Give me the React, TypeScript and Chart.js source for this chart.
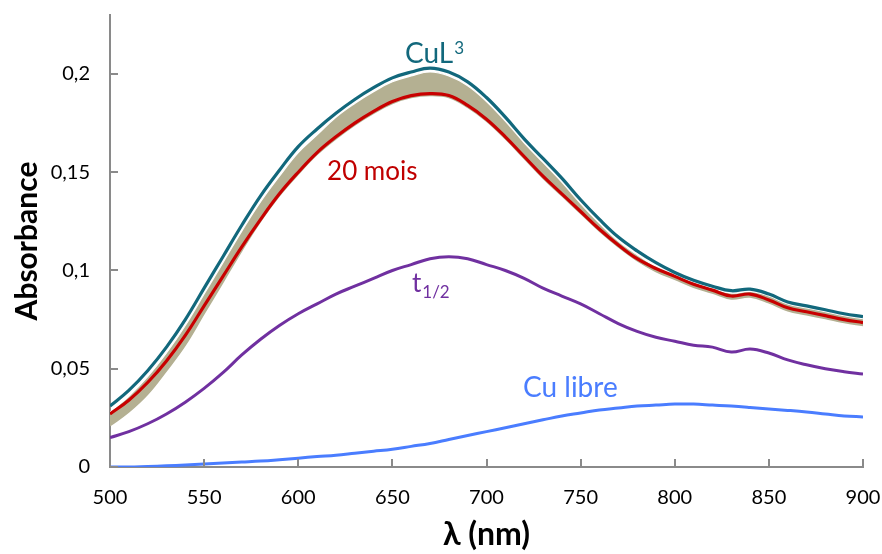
import React, { useEffect, useRef } from "react";
import { Chart, registerables } from "chart.js";

Chart.register(...registerables);

const wavelengths = [500, 510, 520, 530, 540, 550, 560, 570, 580, 590, 600, 610, 620, 630, 640, 650, 660, 670, 680, 690, 700, 710, 720, 730, 740, 750, 760, 770, 780, 790, 800, 810, 820, 830, 840, 850, 860, 870, 880, 890, 900];

const cuL3 = [0.031, 0.039, 0.049, 0.061, 0.075, 0.091, 0.107, 0.123, 0.138, 0.151, 0.163, 0.172, 0.180, 0.187, 0.193, 0.198, 0.201, 0.203, 0.201, 0.196, 0.188, 0.178, 0.167, 0.157, 0.147, 0.136, 0.126, 0.117, 0.110, 0.104, 0.099, 0.095, 0.092, 0.0897, 0.0905, 0.088, 0.084, 0.082, 0.080, 0.078, 0.0765];

const mois20 = [0.027, 0.034, 0.043, 0.054, 0.067, 0.082, 0.097, 0.112, 0.126, 0.139, 0.150, 0.160, 0.168, 0.175, 0.181, 0.186, 0.189, 0.190, 0.189, 0.184, 0.177, 0.168, 0.158, 0.148, 0.139, 0.130, 0.121, 0.113, 0.106, 0.101, 0.097, 0.093, 0.090, 0.087, 0.088, 0.085, 0.081, 0.079, 0.077, 0.075, 0.0735];

const bandTop = [0.028, 0.036, 0.046, 0.058, 0.072, 0.088, 0.104, 0.120, 0.135, 0.148, 0.160, 0.169, 0.178, 0.185, 0.191, 0.196, 0.199, 0.201, 0.199, 0.194, 0.186, 0.176, 0.165, 0.155, 0.145, 0.134, 0.124, 0.115, 0.108, 0.102, 0.098, 0.094, 0.091, 0.0885, 0.0893, 0.087, 0.083, 0.081, 0.079, 0.077, 0.0755];

const bandBottom = [0.021, 0.028, 0.037, 0.049, 0.062, 0.078, 0.094, 0.110, 0.125, 0.138, 0.149, 0.159, 0.167, 0.174, 0.180, 0.185, 0.188, 0.189, 0.188, 0.183, 0.176, 0.167, 0.157, 0.147, 0.138, 0.129, 0.120, 0.112, 0.105, 0.0995, 0.0955, 0.0915, 0.0885, 0.0855, 0.0865, 0.0835, 0.0795, 0.0775, 0.0755, 0.0735, 0.072];

const tHalf = [0.015, 0.018, 0.022, 0.027, 0.033, 0.040, 0.048, 0.057, 0.065, 0.072, 0.078, 0.083, 0.088, 0.092, 0.096, 0.100, 0.103, 0.106, 0.107, 0.106, 0.103, 0.100, 0.096, 0.091, 0.087, 0.083, 0.078, 0.073, 0.069, 0.066, 0.064, 0.062, 0.061, 0.0585, 0.060, 0.058, 0.0545, 0.052, 0.050, 0.0485, 0.0473];

const cuLibre = [0.000, 0.000, 0.0003, 0.0006, 0.001, 0.0015, 0.002, 0.0025, 0.003, 0.0037, 0.0045, 0.0053, 0.006, 0.007, 0.008, 0.009, 0.0105, 0.012, 0.014, 0.016, 0.018, 0.020, 0.022, 0.024, 0.026, 0.0275, 0.029, 0.030, 0.031, 0.0315, 0.032, 0.032, 0.0315, 0.031, 0.0303, 0.0295, 0.0288, 0.028, 0.027, 0.026, 0.0255];

const xTicks = [500, 550, 600, 650, 700, 750, 800, 850, 900];
const yTicks = [0, 0.05, 0.1, 0.15, 0.2];

const labelNm = [656.7, 615.3, 660.4, 719.4];
const labelAbs = [0.2056, 0.146, 0.0891, 0.0356];

const FONT = "Lato, 'Open Sans', sans-serif";
const AXIS_GRAY = "#8a8a8a";

const pts = (ys: number[]) => wavelengths.map((x, i) => ({ x, y: ys[i] }));

const fmt = (v: number) => String(Math.round(v * 1000) / 1000).replace(".", ",");

const decorPlugin = {
  id: "decor",
  afterDatasetsDraw(chart: any) {
    const ctx = chart.ctx;
    const xs = chart.scales.x;
    const ys = chart.scales.y;
    const area = chart.chartArea;
    ctx.save();
    ctx.strokeStyle = AXIS_GRAY;
    ctx.lineWidth = 2;
    ctx.beginPath();
    xTicks.forEach((v) => {
      const px = Math.round(xs.getPixelForValue(v));
      ctx.moveTo(px, area.bottom);
      ctx.lineTo(px, area.bottom - 8);
    });
    yTicks.forEach((v) => {
      const py = Math.round(ys.getPixelForValue(v));
      ctx.moveTo(area.left, py);
      ctx.lineTo(area.left + 8, py);
    });
    ctx.stroke();

    ctx.textBaseline = "alphabetic";
    ctx.textAlign = "left";
    const P = (i: number) => [xs.getPixelForValue(labelNm[i]), ys.getPixelForValue(labelAbs[i])];

    let [x0, y0] = P(0);
    ctx.fillStyle = "#12687c";
    ctx.font = `28px ${FONT}`;
    ctx.fillText("CuL", x0, y0);
    const w0 = ctx.measureText("CuL").width;
    ctx.font = `17px ${FONT}`;
    ctx.fillText("3", x0 + w0 + 1, y0 - 9);

    [x0, y0] = P(1);
    ctx.fillStyle = "#c00000";
    ctx.font = `26px ${FONT}`;
    ctx.fillText("20 mois", x0, y0);

    [x0, y0] = P(2);
    ctx.fillStyle = "#7030a0";
    ctx.font = `26px ${FONT}`;
    ctx.fillText("t", x0, y0);
    const w2 = ctx.measureText("t").width;
    ctx.font = `17px ${FONT}`;
    ctx.fillText("1/2", x0 + w2 + 1, y0 + 6);

    [x0, y0] = P(3);
    ctx.fillStyle = "#4a7dff";
    ctx.font = `28px ${FONT}`;
    ctx.fillText("Cu libre", x0, y0);
    ctx.restore();
  },
};

export default function App() {
  const ref = useRef<HTMLCanvasElement | null>(null);
  useEffect(() => {
    if (!ref.current) return;
    const line = (data: number[], color: string, width: number, extra: any = {}) => ({
      data: pts(data),
      borderColor: color,
      backgroundColor: color,
      borderWidth: width,
      pointRadius: 0,
      tension: 0.4,
      fill: false,
      ...extra,
    });
    const chart = new Chart(ref.current, {
      type: "line",
      data: {
        datasets: [
          line(cuL3, "#12687c", 3.2),
          line(mois20, "#c80000", 3.2),
          line(tHalf, "#7030a0", 3),
          line(cuLibre, "#4a7dff", 3),
          line(bandTop, "#ffffff", 1.2, { fill: "+1", backgroundColor: "#b4b092" }),
          line(bandBottom, "#b4b092", 1.5),
        ],
      },
      options: {
        responsive: false,
        animation: false,
        events: [],
        layout: { padding: { top: 15, right: 19, left: 0, bottom: 0 } },
        plugins: { legend: { display: false }, tooltip: { enabled: false } },
        scales: {
          x: {
            type: "linear",
            min: 500,
            max: 900,
            afterBuildTicks: (s: any) => {
              s.ticks = xTicks.map((v) => ({ value: v }));
            },
            afterFit: (s: any) => {
              s.height = 87;
              s.paddingLeft = 0;
              s.paddingRight = 0;
            },
            grid: { display: true, drawOnChartArea: false, drawTicks: false },
            border: { display: true, color: AXIS_GRAY, width: 2 },
            ticks: {
              padding: 19,
              color: "#000",
              font: { family: FONT, size: 20 },
              maxRotation: 0,
              callback: (v: any) => String(v),
            },
            title: {
              display: true,
              text: "λ (nm)",
              color: "#000",
              font: { family: FONT, size: 32, weight: "bold" },
              padding: { top: 0, bottom: 0 },
            },
          },
          y: {
            type: "linear",
            min: 0,
            max: 0.23,
            afterBuildTicks: (s: any) => {
              s.ticks = yTicks.map((v) => ({ value: v }));
            },
            afterFit: (s: any) => {
              s.width = 110;
              s.paddingTop = 0;
              s.paddingBottom = 0;
            },
            grid: { display: true, drawOnChartArea: false, drawTicks: false },
            border: { display: true, color: AXIS_GRAY, width: 2 },
            ticks: {
              padding: 20,
              color: "#000",
              font: { family: FONT, size: 20 },
              callback: (v: any) => fmt(Number(v)),
            },
            title: {
              display: true,
              text: "Absorbance",
              color: "#000",
              font: { family: FONT, size: 30, weight: "bold" },
              padding: { top: 9, bottom: 0 },
            },
          },
        },
      },
      plugins: [decorPlugin],
    });
    return () => chart.destroy();
  }, []);
  return (
    <div style={{ position: "fixed", left: 0, top: 0, width: 882, height: 554, background: "#fff" }}>
      <canvas ref={ref} width={882} height={554} style={{ display: "block" }} />
    </div>
  );
}
